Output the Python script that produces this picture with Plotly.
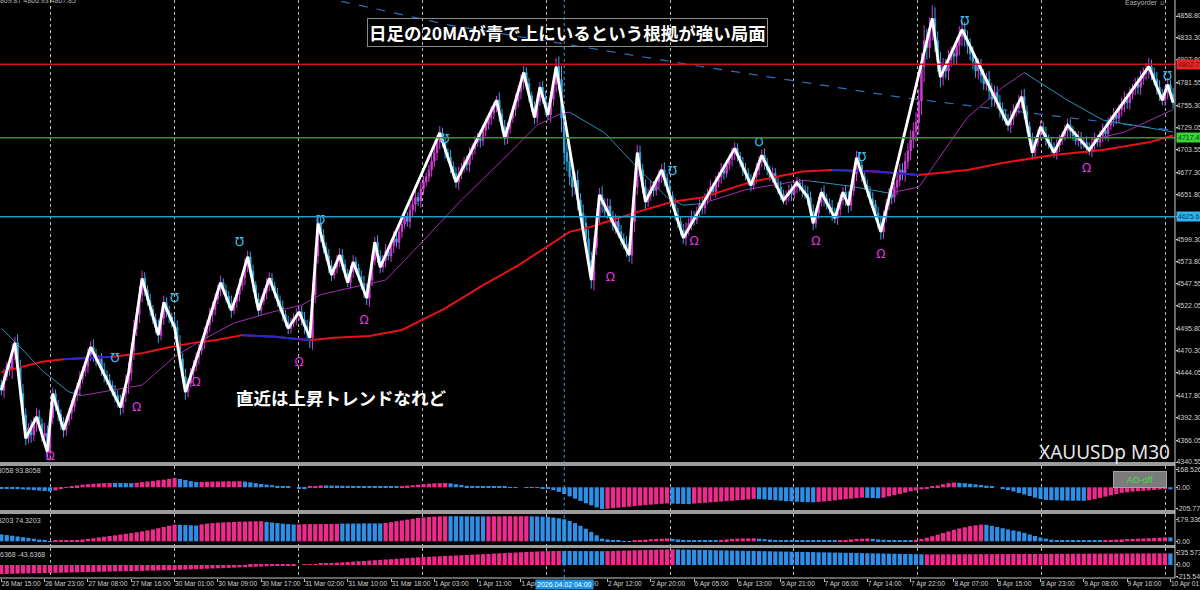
import plotly.graph_objects as go
from plotly.subplots import make_subplots

# XAUUSDp M30 - one close per bar (bar 0 = 26 Mar 15:00)
closes = [
    4424,
    4440, 4452, 4449, 4466, 4479,
    4450, 4420, 4395, 4368,
    4380, 4372, 4386, 4393,
    4385, 4370, 4374, 4352,
    4392, 4420,
    4405, 4396, 4384, 4378,
    4388, 4398, 4405, 4418, 4426, 4437, 4446, 4452, 4465, 4474,
    4466, 4458, 4460, 4448, 4441, 4436, 4430, 4422, 4418, 4410, 4404,
    4420, 4432, 4444,
    4470, 4495, 4512, 4535, 4554,
    4540, 4528, 4518, 4506, 4497, 4488,
    4508, 4526,
    4515, 4509, 4502, 4497,
    4478, 4460, 4440, 4422,
    4432, 4445, 4452, 4462, 4470, 4479,
    4490, 4500, 4512, 4518, 4530, 4541, 4549,
    4540, 4533, 4525, 4517,
    4527, 4535,
    4546, 4555, 4568, 4579,
    4562, 4546, 4530, 4517,
    4528, 4538, 4546, 4554,
    4545, 4536, 4528, 4520, 4512, 4503, 4496,
    4502, 4508, 4511, 4515,
    4506, 4498, 4491, 4485,
    4535, 4580, 4618,
    4604, 4590, 4580, 4568, 4558,
    4566, 4575, 4581,
    4570, 4560, 4549,
    4562, 4573,
    4566, 4556, 4548, 4540, 4531,
    4552, 4575, 4596,
    4580, 4567,
    4575, 4586, 4580, 4592, 4600, 4596, 4608, 4617, 4625, 4620, 4633,
    4640, 4648, 4644, 4658, 4666, 4672, 4680, 4690, 4700, 4712, 4723,
    4712, 4700, 4695, 4684, 4676, 4666,
    4675, 4682, 4690, 4686, 4698, 4705, 4712, 4718, 4714, 4726, 4733, 4740, 4746, 4752, 4761,
    4745, 4730, 4717,
    4728, 4740, 4750, 4760, 4771, 4782, 4793,
    4780, 4766, 4752, 4741,
    4760, 4776,
    4764, 4752, 4744,
    4762, 4780, 4800,
    4785, 4740, 4700, 4690, 4672, 4660, 4668, 4645, 4630, 4618, 4600, 4575, 4552,
    4590, 4625, 4651,
    4640, 4632, 4638, 4626, 4615, 4620, 4608, 4600, 4594, 4588, 4581,
    4620, 4660, 4700,
    4680, 4660, 4643,
    4652, 4660, 4656, 4666, 4672, 4680,
    4670, 4660, 4650, 4640, 4628, 4620, 4610, 4601,
    4610, 4618, 4625, 4622, 4632, 4640, 4636, 4646, 4652, 4660,
    4655, 4666, 4672, 4680, 4676, 4686, 4692, 4698, 4705,
    4696, 4688, 4680, 4676, 4668, 4662,
    4672, 4680, 4690, 4697,
    4688, 4680, 4672, 4676, 4665, 4660, 4652, 4645,
    4650, 4656, 4652, 4660, 4665,
    4660, 4656, 4652, 4648,
    4632, 4618,
    4630, 4642, 4654,
    4646, 4640, 4636, 4630, 4624,
    4634, 4645, 4654,
    4646, 4639,
    4656, 4675, 4694,
    4685, 4672, 4662, 4655, 4646, 4640, 4630, 4618, 4608,
    4625, 4640, 4652, 4648, 4660, 4668, 4680, 4676, 4690, 4702,
    4715, 4725, 4735, 4760, 4800, 4830, 4822, 4845, 4856,
    4830, 4805, 4788,
    4800, 4795, 4808, 4815, 4812, 4825, 4835, 4843,
    4832, 4825, 4815, 4806, 4795, 4800, 4790, 4780, 4785,
    4772, 4762, 4770, 4758, 4750, 4745, 4738, 4732,
    4740, 4748, 4752, 4760, 4765,
    4748, 4730, 4715, 4700,
    4712, 4722, 4730,
    4722, 4716, 4710, 4706, 4700,
    4708, 4714, 4720, 4726, 4732,
    4725, 4720, 4714, 4718, 4710, 4712, 4706, 4703,
    4710, 4716, 4712, 4720, 4726, 4722, 4732, 4738, 4744, 4740, 4750,
    4756, 4762, 4758, 4768, 4774, 4780, 4776, 4786, 4792, 4796, 4800,
    4792, 4785, 4776, 4768, 4761,
    4770, 4779,
    4768, 4758,
]
first_open = 4430

# wick length beyond the body, per bar
wicks = [
    6, 9, 5, 8, 12, 7, 10, 9, 11, 8, 6, 9, 7, 10, 8, 6, 12, 9, 10, 7,
    5, 8, 6, 9, 7, 5, 8, 6, 7, 9, 5, 6, 8, 7, 9, 6, 5, 7, 8, 6,
    7, 5, 8, 6, 9, 7, 10, 12, 9, 11, 8, 10, 9, 7, 6, 8, 5, 7, 9, 6,
    8, 6, 7, 5, 9, 8, 10, 7, 9, 6, 5, 7, 6, 8, 5, 7, 6, 8, 9, 7,
    6, 8, 5, 7, 6, 9, 5, 7, 8, 6, 9, 7, 6, 8, 5, 7, 6, 5, 8, 7,
    6, 5, 7, 6, 8, 5, 7, 6, 5, 8, 6, 7, 9, 8, 12, 14, 10, 9, 8, 7,
    6, 8, 7, 5, 6, 8, 7, 6, 5, 7, 8, 6, 5, 7, 9, 8, 10, 7, 6, 8,
    7, 6, 8, 5, 7, 9, 6, 8, 7, 5, 6, 8, 7, 9, 6, 8, 7, 5, 6, 8,
    7, 9, 8, 6, 7, 5, 8, 6, 7, 9, 6, 5, 7, 8, 6, 7, 5, 8, 6, 7,
    6, 8, 7, 5, 9, 6, 8, 7, 6, 5, 8, 7, 9, 8, 6, 7, 5, 8, 7, 6,
    7, 8, 6, 9, 8, 10, 12, 16, 14, 12, 10, 11, 9, 12, 8, 10, 9, 11, 10, 12,
    9, 8, 10, 7, 9, 8, 6, 9, 7, 8, 6, 9, 8, 10, 12, 9, 8, 7, 9, 6,
    8, 7, 6, 8, 7, 9, 6, 8, 5, 7, 8, 6, 7, 9, 6, 8, 7, 5, 6, 8,
    7, 6, 8, 5, 7, 6, 8, 7, 5, 6, 8, 7, 6, 5, 7, 8, 6, 7, 5, 8,
    6, 7, 8, 6, 5, 7, 6, 8, 7, 5, 6, 7, 8, 6, 7, 5, 8, 6, 9, 7,
    8, 6, 7, 5, 8, 6, 7, 9, 6, 8, 7, 6, 8, 9, 7, 6, 8, 7, 6, 5,
    7, 6, 8, 5, 7, 9, 8, 6, 7, 8, 6, 9, 7, 8, 10, 9, 11, 10, 12, 14,
    16, 18, 14, 12, 15, 13, 11, 12, 10, 9, 11, 8, 10, 9, 12, 11, 9, 10, 8, 9,
    8, 10, 9, 7, 8, 10, 9, 8, 7, 9, 8, 6, 7, 9, 8, 6, 7, 8, 9, 7,
    6, 8, 7, 5, 7, 6, 8, 5, 7, 6, 8, 7, 5, 6, 8, 7, 6, 5, 7, 6,
    5, 7, 6, 8, 7, 5, 6, 8, 7, 9, 6, 8, 7, 6, 8, 9, 7, 8, 6, 7,
    8, 9, 7, 8, 10, 8, 7, 9, 8, 6, 7, 8, 6, 7,
]

# zigzag turning bars
zz_bars = [0, 5, 9, 13, 17, 19, 23, 33, 44, 47, 52, 58, 60, 64, 68, 74, 81, 85, 87, 91,
           95, 99, 106, 110, 114, 117, 122, 125, 128, 130, 135, 138, 140, 162, 168, 183,
           186, 193, 197, 199, 202, 205, 218, 221, 232, 235, 238, 244, 252, 271, 277, 281,
           289, 294, 298, 300, 303, 308, 311, 313, 316, 325, 344, 347, 355, 372, 377, 381,
           384, 389, 394, 402, 424, 429, 431, 433]

# red MA (blue where flat)
red_ma_bars = [0, 7, 15, 23, 31, 41, 52, 62, 71, 79, 89, 101, 114, 123, 136, 148, 164, 178,
               191, 201, 210, 218, 234, 248, 259, 271, 277, 296, 307, 323, 339, 357, 370,
               388, 407, 424, 433]
red_ma_vals = [4445, 4451, 4457, 4460, 4461, 4463, 4467, 4474, 4479, 4482, 4488, 4486, 4482,
               4485, 4487, 4494, 4519, 4546, 4569, 4590, 4608, 4614, 4630, 4643, 4648, 4660,
               4666, 4678, 4680, 4678, 4674, 4680, 4688, 4697, 4703, 4712, 4720]
red_ma_flat = [(23, 41), (89, 114), (307, 339)]

# thin MA, purple when rising / teal when falling
thin_ma_bars = [0, 7, 15, 25, 30, 37, 52, 64, 74, 86, 99, 111, 118, 129, 142, 156, 170, 185,
                198, 207, 210, 223, 234, 246, 252, 259, 275, 296, 299, 314, 328, 339, 357,
                370, 378, 394, 407, 421, 433]
thin_ma_vals = [4496, 4474, 4447, 4422, 4418, 4422, 4430, 4463, 4482, 4502, 4514, 4523, 4535,
                4543, 4552, 4598, 4645, 4691, 4732, 4746, 4747, 4723, 4686, 4648, 4639, 4641,
                4657, 4668, 4667, 4661, 4653, 4660, 4741, 4776, 4793, 4761, 4738, 4730, 4724]
thin_ma_segs = [(0, 30, "t"), (30, 210, "p"), (210, 259, "t"), (259, 299, "p"),
                (299, 328, "t"), (328, 378, "p"), (378, 433, "t")]
fast_ma_bars = [403, 415, 433]
fast_ma_vals = [4715, 4724, 4750]

# daily 20MA (dashed)
d1_ma_bars = [80, 124, 166, 222, 259, 296, 333, 370, 407, 433]
d1_ma_vals = [4905, 4877, 4848, 4819, 4800, 4782, 4764, 4750, 4736, 4726]

# fractal arrows
frac_up_bars = [42, 64, 88, 118, 164, 248, 280, 318, 356, 431]
frac_up_vals = [4460, 4530, 4595, 4621, 4715, 4677, 4711, 4694, 4852, 4788]
frac_dn_bars = [18, 50, 72, 110, 134, 225, 256, 301, 325, 401]
frac_dn_vals = [4346, 4403, 4432, 4456, 4504, 4554, 4596, 4596, 4581, 4681]

level_red = 4802.73
level_green = 4717.45
level_blue = 4625.61

price_ticks = [4858.80, 4833.30, 4807.80, 4781.55, 4755.30, 4729.05, 4703.55, 4677.30,
               4651.80, 4625.55, 4599.30, 4573.80, 4547.55, 4522.05, 4495.80, 4470.30,
               4444.05, 4417.80, 4392.30, 4366.05, 4340.55]

time_labels = ["26 Mar 15:00", "26 Mar 23:00", "27 Mar 08:00", "27 Mar 16:00", "30 Mar 01:00",
               "30 Mar 09:00", "30 Mar 17:00", "31 Mar 02:00", "31 Mar 10:00", "31 Mar 18:00",
               "1 Apr 03:00", "1 Apr 11:00", "1 Apr 19:00", "2 Apr 04:00", "2 Apr 12:00",
               "2 Apr 20:00", "6 Apr 05:00", "6 Apr 13:00", "6 Apr 21:00", "7 Apr 06:00",
               "7 Apr 14:00", "7 Apr 22:00", "8 Apr 07:00", "8 Apr 15:00", "8 Apr 23:00",
               "9 Apr 08:00", "9 Apr 16:00", "10 Apr 01:00"]
label_every = 16
cursor_bar = 208
cursor_text = "2026.04.02 04:00"

# sub-window histograms, one value per 2 bars
ao_vals = [
    -10, -12, -15, -18, -20, -24, -28, -32, -36, -40,
    -30, -15, -2, 8, 18,
    25, 30, 34, 37, 40, 42,
    42, 41, 40, 40,
    44, 50, 56, 62, 68, 74, 80, 88,
    80, 70, 60, 52,
    52, 54, 55, 56, 57, 58, 58, 59,
    55, 48, 40, 32,
    26, 20, 14, 8, 4, 0,
    -10, -15,
    5, 12, 18,
    18, 17, 16, 15, 14, 13, 12, 11, 10,
    9, 8, 8, 9, 10, 12,
    16, 20, 25, 30, 34, 38, 40, 42,
    38, 30, 22, 15, 10,
    8, 7, 6, 5, 4, 3, 2, 1, 0, -2, -4, -6, -8,
    -15, -28, -45, -65, -88, -110, -132, -155, -175, -195, -210,
    -207, -202, -197, -192, -187, -182, -177, -172, -168, -164, -160, -156,
    -158, -160, -162, -163,
    -158, -154, -150, -146, -142, -138, -134, -130, -126, -122, -118, -112,
    -115, -118, -122, -126, -130, -134, -137, -140, -142, -144, -146,
    -142, -137, -132, -126, -120, -115, -110, -105, -100,
    -102, -104, -106,
    -100, -88, -76, -64, -52, -40, -30, -20,
    -8, 5, 18, 30, 40, 46,
    44, 40, 34, 28, 22, 16, 10,
    0, -12, -26, -40, -55, -70, -85, -100, -112, -122,
    -124, -126, -128, -129, -130, -130, -131,
    -125, -115, -102, -90, -78, -66, -54,
    -48, -42, -38, -34, -30, -26, -22, -18,
    -20,
]
ao_runs = [(10, "b"), (11, "p"), (4, "b"), (8, "p"), (4, "b"), (8, "p"), (12, "b"), (3, "p"),
           (14, "b"), (9, "p"), (29, "b"), (12, "p"), (4, "b"), (12, "p"), (11, "b"), (9, "p"),
           (3, "b"), (14, "p"), (24, "b"), (15, "p"), (1, "b")]

osc2_vals = [
    57, 52, 46, 40, 34, 28, 22, 15, 8, 2,
    4, 6, 8, 10, 12,
    15, 20, 26, 32, 38, 44, 50, 56, 62, 68, 75, 82, 90, 98, 108, 118, 128, 138,
    136, 134, 132, 130,
    140, 146, 150, 154,
    156, 158, 160, 162, 163, 164, 165, 166,
    160, 155, 150, 146, 142, 139,
    140, 141, 142, 142, 143, 143, 144, 144,
    146, 146, 147, 147, 148, 148, 148, 148,
    152, 158, 165, 172, 179, 186, 192, 197, 201, 204, 206, 207,
    207, 207, 206, 206, 206, 205, 205,
    206, 206, 206, 207, 207, 207, 207, 207,
    206, 205, 203, 200, 196, 190, 182,
    168, 150, 128, 104, 78, 50, 22,
    16, 10, 5, 2, -2,
    4, 10, 14, 18, 20, 22, 24,
    20, 16, 12, 10, 8, 8, 8, 8, 8,
    12, 16, 20, 22, 24, 25, 26,
    22, 18, 15, 12, 10, 8, 7, 6, 5,
    5, 4, 4, 3, 3, 3,
    8, 12, 16, 20, 22, 24,
    20, 16, 13, 10, 9, 8, 8, 8,
    12, 20, 30, 42, 55, 68, 82, 95, 106, 116, 125, 132, 138,
    136, 128, 118, 108, 98, 90, 82,
    70, 56, 44, 32, 22, 14, 10,
    9, 8, 8, 7, 7, 7, 8, 8,
    10, 12, 14, 16, 18, 20, 22, 24, 26, 28, 30, 33,
    32,
]
osc2_runs = [(10, "b"), (23, "p"), (4, "b"), (12, "p"), (6, "b"), (8, "p"), (8, "b"), (12, "p"),
             (7, "b"), (8, "p"), (19, "b"), (7, "p"), (9, "b"), (7, "p"), (15, "b"), (6, "p"),
             (8, "b"), (13, "p"), (22, "b"), (12, "p"), (1, "b")]

osc3_vals = [
    -170, -168, -166, -163, -161, -159, -156, -154, -152, -149, -147, -145, -142, -140, -138,
    -135, -133, -131, -128, -126, -124, -121, -119, -117, -114, -112, -110, -107, -105, -103,
    -100, -98, -95,
    -91, -87, -83, -79, -74, -70, -66, -62, -58, -54, -50, -45, -41, -37, -33, -29, -25, -21,
    -16, -12, -8, -4, 0,
    4, 10, 17, 24, 30, 37, 44, 50, 57, 64, 70, 77, 84, 90, 97, 104, 110, 117, 124, 130, 137,
    144, 150,
    155, 160, 165, 170, 175, 180, 185, 190, 195, 200, 205, 210, 215, 220, 225, 230, 235, 240,
    245, 250, 254, 258, 261, 263, 265,
    265, 264, 263, 262, 262, 261, 261, 260,
    262, 265, 268, 271, 274, 277, 280, 283, 286, 288, 290, 292, 294,
    292, 290, 288, 286, 284, 282, 280, 278, 276, 274, 272, 270, 268, 266, 264, 262, 260, 258,
    256, 254, 252, 250, 248, 246, 244, 242, 240, 238, 236, 234, 232, 230, 228, 226, 224, 222,
    220, 218, 216, 214, 212, 210, 208, 206, 204, 202,
    200, 200, 201, 201, 202, 202, 203, 203, 204, 204, 205, 205, 205, 206, 206, 207, 207, 208,
    208, 209, 209, 210, 210, 210, 211, 211, 212, 212, 213, 213, 214, 214, 215, 215, 215, 216,
    216, 217, 217, 218, 218, 219, 219, 220, 220,
    218,
]
osc3_runs = [(104, "p"), (8, "b"), (13, "p"), (46, "b"), (45, "p"), (1, "b")]

PINK = "#ee2a8c"
BLUE = "#2f8fe6"
MAG = "#d23cd8"
CYN = "#36a8e0"


def run_colors(runs):
    out = []
    for n, c in runs:
        out += [PINK if c == "p" else BLUE] * n
    return out


bars = list(range(len(closes)))
opens = [first_open] + closes[:-1]
highs = [max(o, c) + w for o, c, w in zip(opens, closes, wicks)]
lows = [min(o, c) - w for o, c, w in zip(opens, closes, wicks)]
ind_bars = bars[::2]

fig = make_subplots(rows=4, cols=1, shared_xaxes=True, vertical_spacing=0)

# ---- main window ----
fig.add_trace(go.Candlestick(
    x=bars, open=opens, high=highs, low=lows, close=closes,
    increasing=dict(line=dict(color=MAG, width=1), fillcolor=MAG),
    decreasing=dict(line=dict(color=CYN, width=1), fillcolor=CYN),
    whiskerwidth=0, hoverinfo="skip"), row=1, col=1)

fig.add_trace(go.Scatter(x=d1_ma_bars, y=d1_ma_vals, mode="lines",
                         line=dict(color="#2f6cb8", width=1.2, dash="dash")), row=1, col=1)

for a, b, c in thin_ma_segs:
    xs = [x for x in thin_ma_bars if a <= x <= b]
    ys = [v for x, v in zip(thin_ma_bars, thin_ma_vals) if a <= x <= b]
    fig.add_trace(go.Scatter(x=xs, y=ys, mode="lines",
                             line=dict(color="#a62cb0" if c == "p" else "#2a8fb8", width=1)),
                  row=1, col=1)
fig.add_trace(go.Scatter(x=fast_ma_bars, y=fast_ma_vals, mode="lines",
                         line=dict(color="#a62cb0", width=1)), row=1, col=1)

fig.add_trace(go.Scatter(x=red_ma_bars, y=red_ma_vals, mode="lines",
                         line=dict(color="#e8101a", width=2)), row=1, col=1)
for a, b in red_ma_flat:
    xs = [x for x in red_ma_bars if a <= x <= b]
    ys = [v for x, v in zip(red_ma_bars, red_ma_vals) if a <= x <= b]
    fig.add_trace(go.Scatter(x=xs, y=ys, mode="lines",
                             line=dict(color="#1c2ad8", width=2)), row=1, col=1)

fig.add_trace(go.Scatter(x=zz_bars, y=[closes[b] for b in zz_bars], mode="lines",
                         line=dict(color="white", width=2.8)), row=1, col=1)

fig.add_trace(go.Scatter(x=frac_up_bars, y=frac_up_vals, mode="text",
                         text=["\u2127"] * len(frac_up_bars),
                         textfont=dict(color="#3cc0f0", size=12, family="DejaVu Sans")),
              row=1, col=1)
fig.add_trace(go.Scatter(x=frac_dn_bars, y=frac_dn_vals, mode="text",
                         text=["\u03a9"] * len(frac_dn_bars),
                         textfont=dict(color="#e038e0", size=12, family="DejaVu Sans")),
              row=1, col=1)

fig.add_hline(y=level_red, line_color="#c8141a", line_width=1.5, row=1, col=1)
fig.add_hline(y=level_green, line_color="#3f8f3a", line_width=1.5, row=1, col=1)
fig.add_hline(y=level_blue, line_color="#1f9cc8", line_width=1.5, row=1, col=1)

# ---- sub windows ----
for row, vals, runs in [(2, ao_vals, ao_runs), (3, osc2_vals, osc2_runs), (4, osc3_vals, osc3_runs)]:
    fig.add_trace(go.Bar(x=ind_bars, y=vals, width=1.55,
                         marker=dict(color=run_colors(runs), line_width=0)), row=row, col=1)

fig.update_layout(
    width=1200, height=590,
    paper_bgcolor="black", plot_bgcolor="black",
    margin=dict(l=0, r=25, t=0, b=12),
    showlegend=False, hovermode=False,
    font=dict(family="Liberation Sans", size=7, color="#d0d0d0"),
)

fig.update_xaxes(
    range=[-0.5, 433.7], showgrid=False, zeroline=False, showticklabels=False,
    rangeslider_visible=False, showline=False, automargin=False,
    minor=dict(tickmode="linear", tick0=18.1, dtick=45.8, showgrid=True,
               gridcolor="#b8b8b8", griddash="dot", gridwidth=1, ticks=""),
)
fig.update_xaxes(
    row=4, col=1, showticklabels=True, tickmode="array",
    tickvals=[label_every * i for i in range(len(time_labels))], ticktext=time_labels,
    ticks="outside", ticklen=3, tickcolor="#c0c0c0", tickangle=0,
    ticklabelposition="outside right", ticklabeloverflow="allow",
    ticklabelstandoff=-1,
    tickfont=dict(size=6.6, color="#d0d0d0"),
)

yax = dict(side="right", showgrid=False, zeroline=False, ticks="outside", ticklen=2,
           tickcolor="#c0c0c0", ticklabeloverflow="allow", automargin=False,
           ticklabelstandoff=-3, tickfont=dict(size=7, color="#d0d0d0"))
fig.update_layout(
    yaxis=dict(yax, domain=[0.2007, 1], range=[4340.6, 4877.4], tickmode="array",
               tickvals=price_ticks, tickformat=".2f"),
    yaxis2=dict(yax, domain=[0.1176, 0.1938], range=[-220, 206], tickmode="array",
                tickvals=[168.526, 0, -205.778], ticktext=["168.526", "0.00", "-205.778"]),
    yaxis3=dict(yax, domain=[0.0571, 0.1107], range=[-30, 225], tickmode="array",
                tickvals=[179.336, 0], ticktext=["179.336", "0.00"]),
    yaxis4=dict(yax, domain=[0, 0.0519], range=[-245, 320], tickmode="array",
                tickvals=[235.573, 0, -215.546], ticktext=["235.573", "0.00", "-215.546"]),
)

# window separators and frame
for y0, y1 in [(0.1938, 0.2007), (0.1107, 0.1176), (0.0519, 0.0571)]:
    fig.add_shape(type="rect", xref="paper", yref="paper", x0=0, x1=1, y0=y0, y1=y1,
                  fillcolor="#9c9c9c", line_width=0)
fig.add_shape(type="line", xref="paper", yref="paper", x0=1, x1=1, y0=0, y1=1,
              line=dict(color="#c8c8c8", width=1))
fig.add_shape(type="line", xref="paper", yref="paper", x0=0, x1=1, y0=0, y1=0,
              line=dict(color="#c8c8c8", width=1))
fig.add_shape(type="line", xref="x", yref="paper", x0=cursor_bar, x1=cursor_bar, y0=0, y1=1,
              line=dict(color="#3aa0d0", width=1, dash="dot"))

# texts
fig.add_annotation(text="日足の20MAが青で上にいるという根拠が強い局面", xref="paper", yref="paper",
                   x=0.4826, y=0.9446, xanchor="center", yanchor="middle", showarrow=False,
                   bordercolor="#8a8a8a", borderwidth=1, borderpad=1,
                   font=dict(family="Noto Sans CJK JP", size=17.5, color="white", weight="bold"))
fig.add_annotation(text="直近は上昇トレンドなれど", xref="paper", yref="paper",
                   x=0.2902, y=0.3131, xanchor="center", yanchor="middle", showarrow=False,
                   font=dict(family="Noto Sans CJK JP", size=17.5, color="white", weight="bold"))
fig.add_annotation(text="XAUUSDp M30", xref="paper", yref="paper", x=0.9974, y=0.218,
                   xanchor="right", yanchor="middle", showarrow=False,
                   font=dict(family="Noto Sans", size=19, color="#e6e6e6"))
fig.add_annotation(text="AO-off", xref="paper", yref="paper", x=0.9702, y=0.1696,
                   xanchor="center", yanchor="middle",
                   showarrow=False, width=50, height=13, bgcolor="#7b7b7b",
                   bordercolor="#a4a4a4", borderwidth=1,
                   font=dict(size=9, color="#3ee03e"))
fig.add_annotation(text="4869.87 4866.93 4867.85", xref="paper", yref="paper", x=0, y=1,
                   xanchor="left", yanchor="middle", xshift=-6, showarrow=False,
                   font=dict(size=7, color="#b0b0b0"))
fig.add_annotation(text="Easyorder \u263a", xref="paper", yref="paper", x=0.975, y=0.995,
                   xanchor="center", yanchor="middle", showarrow=False,
                   font=dict(size=7, color="#b0b0b0"))
for txt, ypx in [("93.8058 93.8058", 471), ("74.3203 74.3203", 520), ("-43.6368 -43.6368", 554)]:
    fig.add_annotation(text=txt, xref="paper", yref="paper", x=0, y=(578 - ypx) / 578,
                       xanchor="left", yanchor="middle", xshift=-14, showarrow=False,
                       font=dict(size=7, color="#c8c8c8"))
fig.add_annotation(text=cursor_text, xref="x4", yref="paper", x=cursor_bar, y=-0.0104,
                   xanchor="center", yanchor="middle", showarrow=False, bgcolor="#1f8fe0",
                   borderpad=1, font=dict(size=7, color="white"))
for lvl, bg, fg in [(level_red, "#e8262a", "#7a0a0a"), (level_green, "#3cd23c", "#083808"),
                    (level_blue, "#34b4ec", "#083a5a")]:
    fig.add_annotation(text=f"{lvl:.2f}", xref="paper", yref="y", x=1, y=lvl,
                       xanchor="left", yanchor="middle", xshift=1, showarrow=False,
                       bgcolor=bg, borderpad=1, font=dict(size=7, color=fg))

# page has a default body margin; remove it so the chart sits at the window's corner
fig.write_html("out.html", config={"displayModeBar": False},
               post_script="document.body.style.margin='0px';")
